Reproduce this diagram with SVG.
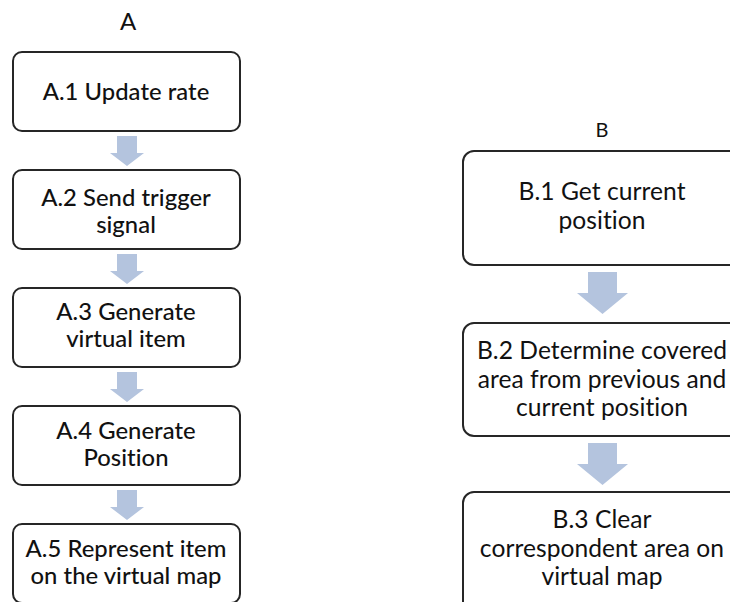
<svg xmlns="http://www.w3.org/2000/svg" width="730" height="602" viewBox="0 0 730 602">
  <style>
    .box { fill: #ffffff; stroke: #262626; stroke-width: 2; }
    .arrow { fill: #b4c4de; stroke: none; }
    .t { font-family: "Lato", "Open Sans", "Liberation Sans", sans-serif; font-size: 23.8px; fill: #111111; text-anchor: middle; letter-spacing: 0.05px; font-variant-ligatures: none; }
    .tb { font-size: 24.6px; }
    .ta { font-weight: 500; }
    .hdr { font-family: "Lato", "Open Sans", "Liberation Sans", sans-serif; fill: #111111; text-anchor: middle; }
  </style>
  <defs>
    <path id="arrowA" class="arrow" d="M-10,0 H10 V17 H17 L0,30 L-17,17 H-10 Z"/>
    <path id="arrowB" class="arrow" d="M-14.5,0 H14.5 V21 H25.5 L0,42 L-25.5,21 H-14.5 Z"/>
  </defs>
  <rect width="730" height="602" fill="#ffffff"/>

  <!-- column headers -->
  <text class="hdr" x="128" y="30" font-size="24">A</text>
  <text class="hdr" x="602" y="137" font-size="20">B</text>

  <!-- connectors -->
  <g id="connectors">
    <use href="#arrowA" x="127" y="136"/>
    <use href="#arrowA" x="127" y="254"/>
    <use href="#arrowA" x="127" y="372"/>
    <use href="#arrowA" x="127" y="490"/>
    <use href="#arrowB" x="602.5" y="272"/>
    <use href="#arrowB" x="602.5" y="443"/>
  </g>

  <!-- column A -->
  <g id="A1">
    <rect class="box" x="13" y="52" width="227" height="79" rx="9"/>
    <text class="t ta" x="126" y="100">A.1 Update rate</text>
  </g>
  <g id="A2">
    <rect class="box" x="13" y="170" width="227" height="79" rx="9"/>
    <text class="t ta" x="126" y="206">A.2 Send trigger</text>
    <text class="t ta" x="126" y="233">signal</text>
  </g>
  <g id="A3">
    <rect class="box" x="13" y="288" width="227" height="79" rx="9"/>
    <text class="t ta" x="126" y="320">A.3 Generate</text>
    <text class="t ta" x="126" y="347">virtual item</text>
  </g>
  <g id="A4">
    <rect class="box" x="13" y="406" width="227" height="79" rx="9"/>
    <text class="t ta" x="126" y="439">A.4 Generate</text>
    <text class="t ta" x="126" y="466">Position</text>
  </g>
  <g id="A5">
    <rect class="box" x="13" y="524" width="227" height="79" rx="9"/>
    <text class="t ta" x="126" y="557">A.5 Represent item</text>
    <text class="t ta" x="126" y="584">on the virtual map</text>
  </g>

  <!-- column B -->
  <g id="B1">
    <rect class="box" x="463" y="151" width="290" height="114" rx="11"/>
    <text class="t tb" x="602" y="200">B.1 Get current</text>
    <text class="t tb" x="602" y="229">position</text>
  </g>
  <g id="B2">
    <rect class="box" x="463" y="323" width="290" height="113" rx="11"/>
    <text class="t tb" x="602" y="359">B.2 Determine covered</text>
    <text class="t tb" x="602" y="388">area from previous and</text>
    <text class="t tb" x="602" y="416">current position</text>
  </g>
  <g id="B3">
    <rect class="box" x="463" y="492" width="290" height="130" rx="11"/>
    <text class="t tb" x="602" y="528">B.3 Clear</text>
    <text class="t tb" x="602" y="557">correspondent area on</text>
    <text class="t tb" x="602" y="585">virtual map</text>
  </g>
</svg>
